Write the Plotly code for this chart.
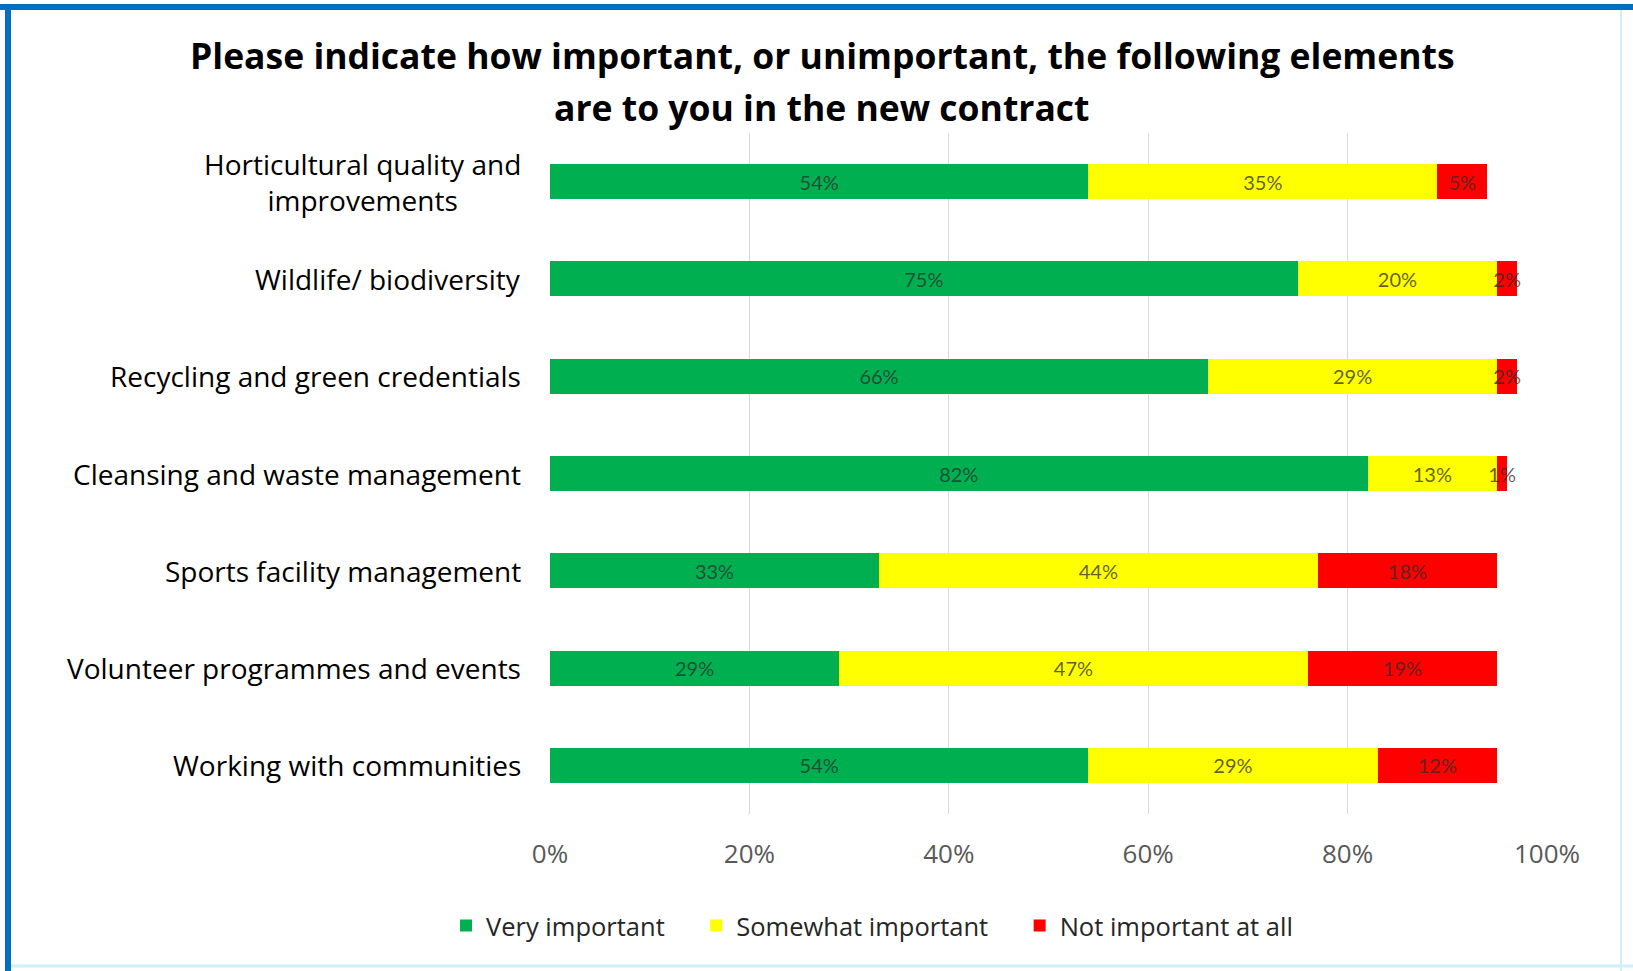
import plotly.graph_objects as go

categories = [
    "Horticultural quality and<br>improvements",
    "Wildlife/ biodiversity",
    "Recycling and green credentials",
    "Cleansing and waste management",
    "Sports facility management",
    "Volunteer programmes and events",
    "Working with communities",
]
very_important = [54, 75, 66, 82, 33, 29, 54]
somewhat_important = [35, 20, 29, 13, 44, 47, 29]
not_important = [5, 2, 2, 1, 18, 19, 12]
series_names = ["Very important", "Somewhat important", "Not important at all"]
series_colors = ["#00B050", "#FFFF00", "#FF0000"]
x_tick_vals = [0, 20, 40, 60, 80, 100]
x_tick_text = ["0%", "20%", "40%", "60%", "80%", "100%"]
title_lines = [
    "Please indicate how important, or unimportant, the following elements",
    "are to you in the new contract",
]

W, H = 1633, 971
L, R, T, B = 550, 86, 133, 157
PW, PH = W - L - R, H - T - B


def px_x(px):
    return (px - L) / PW


def px_y(py):
    return (H - B - py) / PH


FONT = "'Open Sans', Lato, sans-serif"
BAR_FONT = "'Liberation Sans Narrow', Lato, sans-serif"

fig = go.Figure()
pads = [4, 4, 0]
for name, vals, col, pad in zip(series_names,
                                [very_important, somewhat_important, not_important],
                                series_colors, pads):
    fig.add_trace(go.Bar(
        y=categories, x=vals, name=name + "\u00a0" * pad, orientation="h",
        marker=dict(color=col, line=dict(width=0)),
        text=[f"{v}%" for v in vals],
        textposition="inside", insidetextanchor="middle", textangle=0,
        textfont=dict(family=BAR_FONT, size=20, color="rgba(45,45,45,0.75)"),
        hoverinfo="skip",
    ))

annotations = []
for i, line in enumerate(title_lines):
    annotations.append(dict(
        text=f"<b>{line}</b>", xref="paper", yref="paper",
        x=px_x(822), y=px_y(55 + 52 * i), xanchor="center", yanchor="middle",
        showarrow=False, font=dict(family=FONT, size=35.5, color="#000000"),
    ))
for c in categories:
    annotations.append(dict(
        text=c, xref="paper", yref="y", x=px_x(523), y=c,
        xanchor="right", yanchor="middle", align="center", showarrow=False,
        font=dict(family=FONT, size=28, color="#000000"),
    ))

shapes = [
    dict(type="line", xref="paper", yref="paper", x0=px_x(0), x1=px_x(W),
         y0=px_y(7), y1=px_y(7), line=dict(color="#0070C0", width=6)),
    dict(type="line", xref="paper", yref="paper", x0=px_x(8), x1=px_x(8),
         y0=px_y(4), y1=px_y(H), line=dict(color="#0070C0", width=6)),
    dict(type="line", xref="paper", yref="paper", x0=px_x(1621), x1=px_x(1621),
         y0=px_y(10), y1=px_y(H), line=dict(color="#CDEFF7", width=2)),
    dict(type="line", xref="paper", yref="paper", x0=px_x(11), x1=px_x(W),
         y0=px_y(966), y1=px_y(966), line=dict(color="#CDEFF7", width=3)),
]

fig.update_layout(
    width=W, height=H, autosize=False,
    margin=dict(l=L, r=R, t=T, b=B),
    barmode="stack", bargap=0.64,
    paper_bgcolor="white", plot_bgcolor="white",
    uniformtext=dict(minsize=20, mode="show"),
    showlegend=True,
    legend=dict(orientation="h", x=px_x(872), y=px_y(926), xanchor="center",
                yanchor="middle", font=dict(family=FONT, size=25.5, color="#262626"),
                traceorder="normal", itemclick=False),
    annotations=annotations,
    shapes=shapes,
    xaxis=dict(range=[0, 100], tickvals=x_tick_vals, ticktext=x_tick_text,
               showgrid=True, gridcolor="#D9D9D9", gridwidth=1, zeroline=False,
               showline=False, ticks="outside", ticklen=17, tickcolor="rgba(0,0,0,0)",
               tickfont=dict(family=FONT, size=26, color="#595959")),
    yaxis=dict(autorange="reversed", showticklabels=False, showgrid=False,
               zeroline=False, showline=False),
)

fig.write_html("out.html", config={"displayModeBar": False},
               post_script="document.body.style.margin='0px';")
